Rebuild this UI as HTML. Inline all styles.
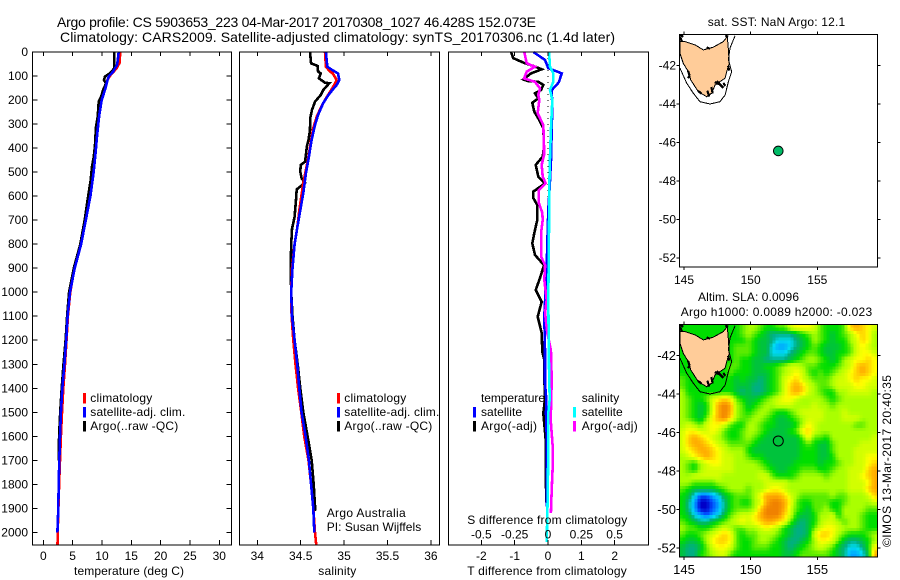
<!DOCTYPE html>
<html>
<head>
<meta charset="utf-8">
<title>Argo profile</title>
<style>
html,body{margin:0;padding:0;background:#fff;}
svg{display:block;font-family:"Liberation Sans",sans-serif;font-size:12px;fill:#000;}
.frame{fill:none;stroke:#000;stroke-width:1.4;shape-rendering:crispEdges;}
.tick{stroke:#000;stroke-width:1;shape-rendering:crispEdges;}
.series{fill:none;stroke-width:2.6;shape-rendering:crispEdges;stroke-linejoin:miter;}
.thin{fill:none;stroke:#000;stroke-width:1;}
.bar{shape-rendering:crispEdges;}
</style>
</head>
<body>
<svg id="chart" width="900" height="580" viewBox="0 0 900 580" xmlns="http://www.w3.org/2000/svg">
<defs>
<clipPath id="clip-top"><rect x="679.3" y="34.3" width="198" height="232.7"/></clipPath>
<clipPath id="clip-bot"><rect x="679.3" y="324.3" width="198" height="232.7"/></clipPath>
</defs>
<text x="57" y="27" font-size="14" textLength="479" lengthAdjust="spacing">Argo profile: CS 5903653_223 04-Mar-2017 20170308_1027 46.428S 152.073E</text>
<text x="60" y="42" font-size="14" textLength="555" lengthAdjust="spacing">Climatology: CARS2009. Satellite-adjusted climatology: synTS_20170306.nc (1.4d later)</text>

<g id="heat" clip-path="url(#clip-bot)"></g>
<g id="mapTop" clip-path="url(#clip-top)"></g>
<g id="mapBot" clip-path="url(#clip-bot)"></g>
<g id="marks"></g>
<g id="ticks"></g>

<rect class="frame" x="32.5" y="52" width="199" height="493"/>
<rect class="frame" x="239.5" y="52" width="200" height="493"/>
<rect class="frame" x="448.5" y="52" width="200" height="493"/>
<rect class="frame" x="679.5" y="34.5" width="198" height="232.5"/>
<rect class="frame" x="679.5" y="324.5" width="198" height="232.5"/>

<text x="74" y="575" textLength="110" lengthAdjust="spacing">temperature (deg C)</text>
<text x="318.3" y="575" textLength="38" lengthAdjust="spacing">salinity</text>
<text x="467.3" y="575" textLength="159.5" lengthAdjust="spacing">T difference from climatology</text>
<text x="467.3" y="524" textLength="160" lengthAdjust="spacing">S difference from climatology</text>

<g>
<rect class="bar" x="83" y="393" width="3" height="10.5" fill="#ff0000"/>
<rect class="bar" x="83" y="407" width="3" height="10.5" fill="#0000ff"/>
<rect class="bar" x="83" y="421" width="3" height="10.5" fill="#000"/>
<text x="90.3" y="402" textLength="62" lengthAdjust="spacing">climatology</text>
<text x="90.3" y="416" textLength="95" lengthAdjust="spacing">satellite-adj. clim.</text>
<text x="90.3" y="430" textLength="88" lengthAdjust="spacing">Argo(..raw -QC)</text>
</g>
<g>
<rect class="bar" x="337" y="393" width="3" height="10.5" fill="#ff0000"/>
<rect class="bar" x="337" y="407" width="3" height="10.5" fill="#0000ff"/>
<rect class="bar" x="337" y="421" width="3" height="10.5" fill="#000"/>
<text x="344.3" y="402" textLength="62" lengthAdjust="spacing">climatology</text>
<text x="344.3" y="416" textLength="95" lengthAdjust="spacing">satellite-adj. clim.</text>
<text x="344.3" y="430" textLength="88" lengthAdjust="spacing">Argo(..raw -QC)</text>
<text x="326.7" y="517" textLength="79" lengthAdjust="spacing">Argo Australia</text>
<text x="326.7" y="531" textLength="94.5" lengthAdjust="spacing">PI: Susan Wijffels</text>
</g>
<g>
<text x="481" y="402" textLength="64" lengthAdjust="spacing">temperature</text>
<rect class="bar" x="473" y="407" width="3" height="10.5" fill="#0000ff"/>
<rect class="bar" x="473" y="421" width="3" height="10.5" fill="#000"/>
<text x="481" y="416" textLength="41" lengthAdjust="spacing">satellite</text>
<text x="481" y="430" textLength="56" lengthAdjust="spacing">Argo(-adj)</text>
<text x="581.7" y="402" textLength="37.5" lengthAdjust="spacing">salinity</text>
<rect class="bar" x="573" y="407" width="3" height="10.5" fill="#00ffff"/>
<rect class="bar" x="573" y="421" width="3" height="10.5" fill="#ff00ff"/>
<text x="581.7" y="416" textLength="41" lengthAdjust="spacing">satellite</text>
<text x="581.7" y="430" textLength="56" lengthAdjust="spacing">Argo(-adj)</text>
</g>

<text x="707.7" y="26" textLength="137.5" lengthAdjust="spacing">sat. SST: NaN Argo: 12.1</text>
<text x="698" y="301" textLength="101" lengthAdjust="spacing">Altim. SLA: 0.0096</text>
<text x="680.7" y="316" textLength="191.5" lengthAdjust="spacing">Argo h1000: 0.0089 h2000: -0.023</text>
<text transform="translate(891,547) rotate(-90)" textLength="172" lengthAdjust="spacing">©IMOS 13-Mar-2017 20:40:35</text>

<script>
/* depth axis tick values */
const depthTicks = [0,100,200,300,400,500,600,700,800,900,1000,1100,1200,1300,1400,1500,1600,1700,1800,1900,2000];
const tempTicks = [0,5,10,15,20,25,30];
const salTickValues = [34,34.5,35,35.5,36];
const salTickLabels = ["34","34.5","35","35.5","36"];
const tDiffTicks = [-2,-1,0,1,2];
const sDiffTickValues = [-0.5,-0.25,0,0.25,0.5];
const sDiffTickLabels = ["-0.5","-0.25","0","0.25","0.5"];
const lonTicks = [145,150,155];
const latTicks = [-42,-44,-46,-48,-50,-52];

/* temperature panel */
const tempClimDepth = [0,45,68,98,117,152,186,228,262,338,436,505,597,700,800,900,1000,1100,1200,1300,1400,1500,1600,1700,1800,1900,2000,2055];
const tempClimValue = [13.1,13.0,12.5,11.4,10.9,10.5,10.05,9.66,9.38,9.15,8.8,8.47,7.96,7.2,6.4,5.3,4.6,4.2,3.95,3.7,3.41,3.19,3.0,2.85,2.7,2.58,2.45,2.42];
const tempSatDepth = [0,53,82,100,120,155,200,262,338,436,505,597,700,800,900,1000,1100,1200,1300,1400,1500,1600,1700,1800,1900,2000];
const tempSatValue = [12.85,12.6,11.9,11.2,10.9,10.55,9.95,9.55,9.2,8.85,8.55,8.05,7.25,6.45,5.35,4.55,4.15,3.9,3.6,3.24,3.0,2.85,2.73,2.62,2.55,2.4];
const tempArgoDepth = [0,68,88,103,117,130,158,186,207,270,311,394,436,477,533,567,608,700,800,900,1000,1100,1200,1300,1400,1500,1600,1700];
const tempArgoValue = [12.1,12.1,11.4,10.5,10.35,10.7,10.2,9.85,9.45,9.27,8.98,8.8,8.6,8.3,8.08,7.85,7.6,7.05,6.3,5.2,4.4,4.05,3.8,3.45,3.13,2.88,2.7,2.6];

/* salinity panel */
const salClimDepth = [0,61,82,89,117,137,165,193,233,269,316,366,436,491,546,644,733,800,900,1000,1100,1200,1300,1400,1500,1600,1700,1800,1900,2000,2055];
const salClimValue = [34.78,34.79,34.84,34.87,34.915,34.887,34.84,34.79,34.73,34.685,34.645,34.62,34.59,34.56,34.53,34.49,34.46,34.43,34.40,34.39,34.395,34.415,34.44,34.47,34.507,34.54,34.59,34.62,34.645,34.665,34.68];
const salSatDepth = [0,61,78,89,117,137,158,179,212,262,304,366,436,505,587,670,733,800,900,1000,1100,1200,1300,1400,1500,1600,1700,1800,1900,2000];
const salSatValue = [34.79,34.806,34.875,34.93,34.945,34.915,34.865,34.82,34.76,34.70,34.665,34.625,34.595,34.56,34.53,34.49,34.46,34.43,34.405,34.39,34.40,34.43,34.46,34.484,34.51,34.557,34.595,34.62,34.645,34.657];
const salArgoDepth = [0,47,58,82,89,110,128,130,158,179,207,241,276,325,366,394,429,457,470,498,526,544,572,616,686,737,800,900,1000,1100,1200,1300,1400,1500,1600,1700,1800,1910];
const salArgoValue = [34.607,34.62,34.695,34.70,34.73,34.71,34.78,34.83,34.76,34.73,34.665,34.63,34.61,34.607,34.59,34.57,34.56,34.55,34.50,34.495,34.51,34.55,34.454,34.446,34.43,34.40,34.39,34.385,34.39,34.405,34.43,34.465,34.495,34.53,34.58,34.627,34.65,34.668];

/* difference panel: temperature series in deg C, salinity series in psu */
const dTempArgoDepth = [0,26,47,58,72,89,114,121,124,137,158,172,193,211,249,276,318,394,436,470,519,547,581,608,637,699,754,797,845,887,941,991,1040,1102,1170,1248,1282,1352,1445,1503,1615,1810,1892];
const dTempArgoValue = [-1.11,-1.04,-0.69,-0.44,-0.19,-0.51,-0.74,-0.59,-0.29,-0.14,-0.21,-0.39,-0.29,-0.47,-0.41,-0.29,-0.14,-0.12,-0.16,-0.37,-0.29,-0.09,-0.44,-0.44,-0.32,-0.32,-0.41,-0.47,-0.39,-0.12,-0.24,-0.37,-0.19,-0.31,-0.19,-0.17,-0.11,-0.11,-0.09,-0.14,-0.07,-0.06,-0.04];
const dTempSatDepth = [0,33,67,89,124,137,158,228,325,450,560,658,741,894,1102,1241,1380,1445,1503,1643,1892];
const dTempSatValue = [-0.44,-0.09,0.01,0.41,0.33,0.26,0.11,0.13,0.11,0.09,0.05,0.01,-0.01,-0.04,-0.11,-0.09,-0.09,-0.05,-0.06,-0.03,-0.03];
const dSalArgoDepth = [0,47,61,82,110,124,151,179,200,255,304,394,429,470,519,547,575,629,670,699,754,852,887,949,1032,1087,1170,1241,1366,1532,1643,1726,1824,1920];
const dSalArgoValue = [-0.178,-0.16,-0.098,-0.16,-0.18,-0.098,-0.06,-0.073,-0.065,-0.077,-0.035,-0.03,-0.03,-0.047,-0.04,-0.017,-0.068,-0.068,-0.043,-0.04,-0.052,-0.052,-0.022,-0.028,-0.01,-0.022,-0.005,0.022,0.028,0.02,0.035,0.035,0.028,0.022];
const dSalSatDepth = [0,61,89,124,158,200,325,436,560,737,1030,1310,1445,1503,1650,1851,2002,2040];
const dSalSatValue = [0.0075,0.015,0.04,0.04,0.015,0.032,0.022,0.015,0.01,0.0075,0.002,0.0075,0.013,0.002,0.002,-0.002,-0.008,-0.008];

/* map geography (lon / lat) */
const landLon = [144.7,144.7,144.95,145.33,145.5,145.83,146.07,146.7,147.08,147.33,148.08,148.2,148.4,148.33,148.25,147.95,147.2,146.45,145.83,145.08];
const landLat = [-40.75,-41.36,-41.88,-42.31,-42.74,-43.09,-43.35,-43.61,-43.43,-43.0,-42.65,-42.31,-41.88,-41.18,-40.49,-40.75,-41.04,-41.18,-40.92,-40.75];
const shelfLon = [148.83,148.45,148.33,148.58,148.33,148.08,147.7,146.95,146.2,145.7,145.2,144.7];
const shelfLat = [-40.44,-41.08,-41.7,-42.31,-42.83,-43.52,-43.87,-43.99,-43.87,-43.43,-42.91,-42.13];
const rockyCoastLon = [144.7,144.85,144.72,144.95,148.1,148.3,146.7,146.95,145.3,145.42,145.42,145.3,146.05,146.3,146.75,146.9,147.05,147.15,147.3,147.6,147.45,147.95,147.95,148.1,148.3,148.4];
const rockyCoastLat = [-40.5,-40.75,-40.4,-40.5,-40.42,-40.5,-41.05,-41.12,-42.25,-42.5,-42.5,-42.65,-43.3,-43.45,-43.3,-43.6,-43.1,-43.45,-42.85,-42.95,-42.8,-43.15,-42.9,-43.05,-42.0,-42.25];
const argoLon = [152.073];
const argoLat = [-46.428];

/* altimeter SLA colour level per grid cell, north to south, 0 = most negative */
const slaLevels = [
[6,6,6,6,6,6,6,6,6,6,7,8,8,7,6,6,7,7,9,10,10,10,9,7,6,6,6,7,11,12,11,10,9],
[6,6,6,6,6,6,6,6,6,6,7,8,7,6,5,4,4,4,4,5,6,7,8,7,6,5,6,7,8,10,11,10,8],
[6,6,6,6,6,6,6,6,6,6,6,7,6,5,5,4,3,3,3,4,5,6,8,7,6,5,6,6,8,9,11,10,8],
[6,6,6,6,6,6,6,6,6,7,7,7,6,5,5,3,2,2,3,4,5,6,7,6,5,5,5,6,7,9,10,9,8],
[6,6,6,6,6,6,6,6,6,7,7,7,6,5,5,3,3,3,4,5,6,7,7,6,5,5,6,6,7,9,10,10,9],
[6,6,6,6,6,6,6,6,6,7,6,6,5,5,4,4,4,4,5,6,7,8,8,7,6,5,6,8,9,10,10,11,10],
[6,6,6,6,6,6,6,6,7,7,6,6,5,5,6,6,7,8,9,9,8,7,7,6,6,6,7,8,9,11,12,11,10],
[6,6,6,6,6,6,6,6,7,6,6,6,5,5,5,6,7,8,9,10,9,7,6,7,6,7,8,9,10,11,12,11,10],
[7,6,6,6,6,6,6,6,6,5,6,5,5,4,5,6,7,9,10,11,9,8,7,7,7,8,9,9,10,11,10,10,9],
[7,6,6,6,6,6,6,6,6,5,5,5,4,4,5,6,7,9,11,12,11,9,8,7,7,8,9,9,9,10,10,9,9],
[8,6,6,6,6,6,6,6,6,5,4,5,4,4,5,6,7,9,11,12,11,9,8,7,6,6,8,8,9,9,9,9,8],
[8,7,6,6,7,9,10,11,10,7,6,5,5,6,7,8,9,10,10,9,8,8,8,8,7,6,7,8,8,8,8,8,8],
[8,7,6,5,6,9,12,13,12,8,7,5,6,7,8,8,9,9,9,8,8,8,9,8,8,7,8,8,8,8,8,8,8],
[8,7,6,5,6,9,12,13,12,8,7,6,7,8,8,7,6,6,7,8,9,9,9,9,8,8,8,9,8,8,8,8,8],
[8,7,6,5,7,10,12,13,11,8,7,7,8,8,7,6,5,5,6,7,8,9,9,9,8,8,8,9,9,9,8,8,8],
[8,9,8,7,9,10,10,9,7,6,6,8,8,7,6,6,5,5,5,6,8,10,9,8,8,8,8,8,8,7,7,8,8],
[9,10,10,9,9,10,9,7,6,6,7,8,8,7,6,5,5,5,6,7,10,11,9,8,8,8,8,8,8,8,8,8,8],
[9,11,12,11,10,9,8,7,6,6,7,8,7,6,5,5,5,5,5,5,7,10,7,7,6,8,8,8,8,8,8,8,9],
[9,11,12,12,11,10,9,8,7,7,7,7,6,5,5,5,5,5,5,5,6,7,6,5,5,7,8,8,8,8,9,9,9],
[9,10,11,12,12,11,10,9,8,8,8,6,5,5,5,5,5,5,5,5,6,6,6,5,5,7,8,8,8,9,9,9,9],
[8,9,10,11,12,11,10,9,9,8,8,7,6,6,5,5,5,5,5,5,6,6,6,5,5,6,8,8,8,9,9,10,10],
[8,7,6,8,9,10,10,9,9,8,8,8,8,7,6,5,5,5,5,6,6,6,6,5,6,6,7,8,8,9,9,10,11],
[8,7,6,8,9,9,9,9,9,8,8,8,8,8,7,6,5,5,6,6,7,7,7,6,6,7,8,8,9,9,9,11,12],
[8,8,9,9,9,9,9,8,8,8,8,8,8,9,9,7,6,6,6,7,8,8,8,8,7,8,8,8,9,9,10,11,12],
[8,8,7,7,7,7,8,8,8,8,8,8,8,8,9,9,9,9,8,8,8,8,8,8,8,8,8,8,9,9,9,10,12],
[7,6,5,5,5,5,6,7,8,8,8,7,8,8,9,10,10,9,8,8,8,8,8,8,8,8,8,8,9,9,9,11,12],
[6,5,3,1,1,2,3,5,6,7,7,7,8,10,12,12,12,11,9,8,7,7,7,7,7,8,7,7,8,8,8,9,11],
[6,4,2,0,0,1,2,4,6,7,6,6,8,9,12,13,13,12,10,7,6,6,7,7,7,6,6,7,8,8,8,8,9],
[6,4,2,0,0,1,2,4,6,7,7,7,8,11,13,13,13,12,9,7,6,5,7,7,8,6,6,8,8,8,8,7,7],
[6,5,3,2,1,2,3,5,7,8,9,9,10,12,13,13,13,11,9,6,5,5,6,8,8,9,6,8,8,8,7,6,6],
[7,6,5,4,4,5,6,7,8,9,10,9,10,11,12,12,11,10,7,5,4,5,6,8,9,9,8,7,8,8,7,6,6],
[8,7,7,6,6,7,8,9,8,7,7,8,8,9,10,9,8,6,5,4,4,5,7,9,10,10,9,8,8,8,7,6,6],
[7,6,6,7,8,9,10,11,10,7,6,7,7,8,8,8,7,6,5,4,4,5,9,11,11,10,8,7,6,6,6,7,8],
[6,5,5,6,8,10,11,11,10,7,6,6,7,8,8,7,6,5,4,4,5,6,8,10,10,9,7,5,4,4,5,6,8],
[5,4,4,5,7,9,10,10,9,7,6,6,7,7,7,6,6,5,4,5,6,7,8,9,8,7,5,4,3,3,4,6,10],
[5,4,4,6,7,8,9,9,7,6,6,6,6,6,6,6,6,5,5,6,7,7,7,7,7,6,5,4,2,2,3,5,12]
];

const SVGNS = "http://www.w3.org/2000/svg";
const slaPalette = [[0,0,200],[0,80,255],[0,165,255],[0,220,240],[0,175,130],[0,195,60],[0,222,0],[90,235,0],[170,255,0],[210,255,0],[255,255,0],[255,210,0],[255,170,0],[240,130,0]];
const cellLon = 0.45;
const cellLat = 0.3359;
const gridLon0 = 144.65;
const gridLat0 = -40.37;
const subCells = 2;

function depthY(d){ return 52 + d * 0.2402; }
function tempX(t){ return 43.3 + t * 5.867; }
function salX(s){ return 257.3 + (s - 34) * 86.8; }
function dTempX(t){ return 548 + t * 33.33; }
function dSalX(s){ return 548 + s * 133.3; }
function lonX(lon){ return 684 + (lon - 145) * 13.33; }
function latTopY(lat){ return 65.7 + (-42 - lat) * 19.25; }
function latBotY(lat){ return 355.7 + (-42 - lat) * 19.25; }

function mk(tag, attrs, parent){
  const n = document.createElementNS(SVGNS, tag);
  for (const k in attrs) n.setAttribute(k, attrs[k]);
  parent.appendChild(n);
  return n;
}
const marksG = document.getElementById("marks");
const ticksG = document.getElementById("ticks");
const heatG = document.getElementById("heat");
const mapTopG = document.getElementById("mapTop");
const mapBotG = document.getElementById("mapBot");

function profile(name, depths, values, xFn, colour, width){
  const pts = depths.map(function(d, i){ return xFn(values[i]).toFixed(1) + "," + depthY(d).toFixed(1); }).join(" ");
  const el = mk("polyline", {"class":"series", points:pts, stroke:colour, "stroke-width":width}, marksG);
  
  
}
function tickLine(x1, y1, x2, y2){
  const el = mk("line", {"class":"tick", x1:x1, y1:y1, x2:x2, y2:y2}, ticksG);
  
  
}
function tickText(x, y, str, anchor, size){
  const el = mk("text", {x:x, y:y, "text-anchor":anchor, "font-size":size}, ticksG);
  el.textContent = str;
  
  
}

/* temperature */
profile('temperature-climatology-line', tempClimDepth, tempClimValue, tempX, '#ff0000', 2.6);
profile('temperature-argo-line', tempArgoDepth, tempArgoValue, tempX, '#000000', 2.8);
profile('temperature-satellite-line', tempSatDepth, tempSatValue, tempX, '#0000ff', 2.8);
/* salinity */
profile('salinity-argo-line', salArgoDepth, salArgoValue, salX, '#000000', 2.8);
profile('salinity-climatology-line', salClimDepth, salClimValue, salX, '#ff0000', 2.6);
profile('salinity-satellite-line', salSatDepth, salSatValue, salX, '#0000ff', 2.8);

/* difference zero line */
const zeroLine = mk("line", {x1:dTempX(0), y1:depthY(0), x2:dTempX(0), y2:depthY(1000), stroke:"#000", "stroke-width":1, "stroke-dasharray":"1 5", "shape-rendering":"crispEdges"}, marksG);


profile('t-difference-argo-line', dTempArgoDepth, dTempArgoValue, dTempX, '#000000', 2.6);
profile('t-difference-satellite-line', dTempSatDepth, dTempSatValue, dTempX, '#0000ff', 2.2);
profile('s-difference-argo-line', dSalArgoDepth, dSalArgoValue, dSalX, '#ff00ff', 2.6);
profile('s-difference-satellite-line', dSalSatDepth, dSalSatValue, dSalX, '#00ffff', 2.2);

/* depth ticks */
depthTicks.forEach(function(d){
  const y = depthY(d);
  tickLine(32.5, y, 37.5, y);
  tickLine(226.5, y, 231.5, y);
  tickText(28, y + 4, String(d), "end", 12);
});
/* temperature ticks */
tempTicks.forEach(function(t){
  const x = tempX(t);
  tickLine(x, 52, x, 56);
  tickLine(x, 545, x, 540);
  tickText(x, 560, String(t), "middle", 12);
});
/* salinity ticks */
salTickValues.forEach(function(s, i){
  const x = salX(s);
  tickLine(x, 52, x, 56);
  tickLine(x, 545, x, 540);
  tickText(x, 560, salTickLabels[i], "middle", 12);
});
/* difference ticks */
tDiffTicks.forEach(function(t){
  const x = dTempX(t);
  tickLine(x, 52, x, 56);
  tickLine(x, 545, x, 540);
  tickText(x, 560, String(t), "middle", 12);
});
sDiffTickValues.forEach(function(s, i){
  tickText(dSalX(s), 538.5, sDiffTickLabels[i], "middle", 12);
});

/* map ticks */
lonTicks.forEach(function(lon){
  const x = lonX(lon);
  tickLine(x, 34.3, x, 31.3);
  tickLine(x, 267, x, 270);
  tickText(x, 284, String(lon), "middle", 12);
  tickLine(x, 324.3, x, 321.3);
  tickLine(x, 557, x, 560);
  tickText(x, 574, String(lon), "middle", 13);
});
latTicks.forEach(function(lat){
  const y1 = latTopY(lat);
  tickLine(679.3, y1, 676.3, y1);
  tickLine(877.3, y1, 880.3, y1);
  tickText(676, y1 + 4, String(lat), "end", 12);
  const y2 = latBotY(lat);
  tickLine(679.3, y2, 676.3, y2);
  tickLine(877.3, y2, 880.3, y2);
  tickText(676, y2 + 4.5, String(lat), "end", 13);
});

/* SLA heatmap: the grid is drawn with bilinear smoothing between read cell values */
function levelAt(u, v){
  const rows = slaLevels.length, cols = slaLevels[0].length;
  const cu = Math.min(Math.max(u, 0), cols - 1), cv = Math.min(Math.max(v, 0), rows - 1);
  const u0 = Math.floor(cu), v0 = Math.floor(cv);
  const u1 = Math.min(u0 + 1, cols - 1), v1 = Math.min(v0 + 1, rows - 1);
  const fu = cu - u0, fv = cv - v0;
  return (slaLevels[v0][u0] * (1 - fu) + slaLevels[v0][u1] * fu) * (1 - fv) + (slaLevels[v1][u0] * (1 - fu) + slaLevels[v1][u1] * fu) * fv;
}
function levelColour(level){
  const l0 = Math.floor(level), l1 = Math.min(l0 + 1, slaPalette.length - 1), f = level - l0;
  const a = slaPalette[l0], b = slaPalette[l1];
  return "rgb(" + Math.round(a[0] + (b[0] - a[0]) * f) + "," + Math.round(a[1] + (b[1] - a[1]) * f) + "," + Math.round(a[2] + (b[2] - a[2]) * f) + ")";
}
for (let r = 0; r < slaLevels.length * subCells; r++) {
  for (let c = 0; c < slaLevels[0].length * subCells; c++) {
    const x0 = lonX(gridLon0 + c / subCells * cellLon);
    const x1 = lonX(gridLon0 + (c + 1) / subCells * cellLon);
    const y0 = latBotY(gridLat0 - r / subCells * cellLat);
    const y1 = latBotY(gridLat0 - (r + 1) / subCells * cellLat);
    const level = levelAt((c + 0.5) / subCells - 0.5, (r + 0.5) / subCells - 0.5);
    const cell = mk("rect", {x:x0.toFixed(2), y:y0.toFixed(2), width:(x1 - x0 + 0.5).toFixed(2), height:(y1 - y0 + 0.5).toFixed(2), fill:levelColour(level), "shape-rendering":"crispEdges"}, heatG);
    
    
  }
}

/* coast, shelf contour and Argo position on both maps */
function drawMap(group, latY, prefix){
  const land = mk("polygon", {points:landLon.map(function(lon, i){ return lonX(lon).toFixed(1) + "," + latY(landLat[i]).toFixed(1); }).join(" "), fill:"#ffcc99", stroke:"#000", "stroke-width":1, "shape-rendering":"crispEdges"}, group);
  
  
  const shelf = mk("polyline", {"class":"thin", points:shelfLon.map(function(lon, i){ return lonX(lon).toFixed(1) + "," + latY(shelfLat[i]).toFixed(1); }).join(" "), "shape-rendering":"crispEdges"}, group);
  
  
  for (let i = 0; i + 1 < rockyCoastLon.length; i += 2) {
    const rock = mk("line", {x1:lonX(rockyCoastLon[i]), y1:latY(rockyCoastLat[i]), x2:lonX(rockyCoastLon[i + 1]), y2:latY(rockyCoastLat[i + 1]), stroke:"#000", "stroke-width":2.2, "shape-rendering":"crispEdges"}, group);
    
    
  }
}
drawMap(mapTopG, latTopY, 'sst-map');
drawMap(mapBotG, latBotY, 'sla-map');

const sstRing = mk("circle", {cx:lonX(argoLon[0]), cy:latTopY(argoLat[0]), r:4.8, fill:"#00bb66", stroke:"#000", "stroke-width":1}, mapTopG);


const slaRing = mk("circle", {cx:lonX(argoLon[0]), cy:latBotY(argoLat[0]), r:5, fill:"none", stroke:"#000", "stroke-width":1}, mapBotG);


</script>
</svg>
</body>
</html>
